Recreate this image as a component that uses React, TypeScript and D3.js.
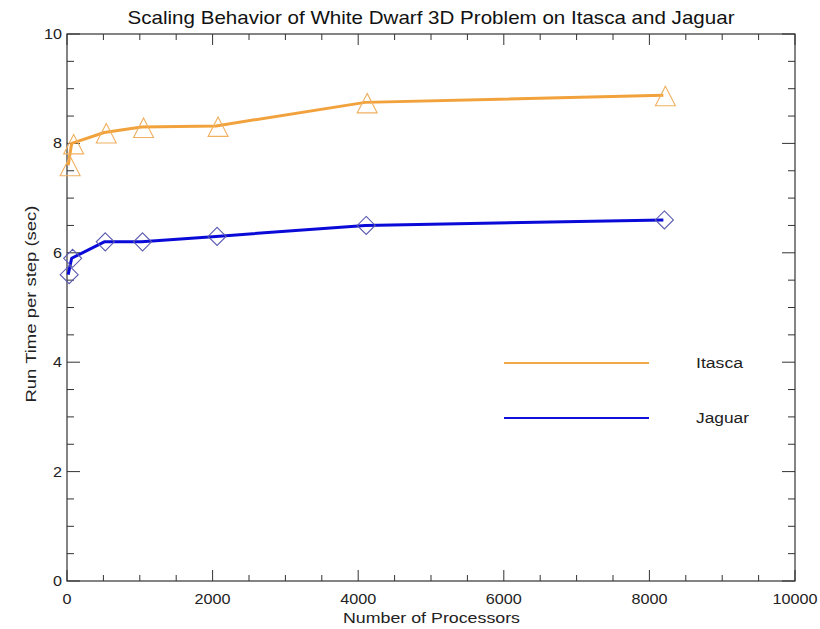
import React from "react";
import * as d3 from "d3";

const processors = [16, 64, 512, 1024, 2048, 4096, 8192];
const itasca = [7.6, 8.0, 8.2, 8.3, 8.32, 8.75, 8.88];
const jaguar = [5.6, 5.9, 6.2, 6.2, 6.3, 6.5, 6.6];
const xTicks = [0, 2000, 4000, 6000, 8000, 10000];
const yTicks = [0, 2, 4, 6, 8, 10];

const W = 820, H = 629;
const L = 67, R = 795, T = 34, B = 581;
const font = "'Liberation Sans', Arial, Helvetica, sans-serif";

export default function App() {
  const x = d3.scaleLinear().domain([0, 10000]).range([L, R]);
  const y = d3.scaleLinear().domain([0, 10]).range([B, T]);
  const line = d3.line<number>().x((_, i) => x(processors[i])).y((d) => y(d));
  const xMinor = d3.range(0, 10001, 500);
  const yMinor = d3.range(0, 10.01, 0.5);
  const axisColor = "#333";
  const tri = (cx: number, cy: number) => {
    const s = 10;
    return `M${cx},${cy - s * 1.2}L${cx + s},${cy + s * 0.75}L${cx - s},${cy + s * 0.75}Z`;
  };
  const dia = (cx: number, cy: number) => {
    const s = 9;
    return `M${cx},${cy - s}L${cx + s},${cy}L${cx},${cy + s}L${cx - s},${cy}Z`;
  };
  const digitW = 9;
  return (
    <div style={{ position: "absolute", left: 0, top: 0 }}>
      <svg width={W} height={H} style={{ display: "block", background: "#fff" }}>
        <text x={431} y={24} textAnchor="middle" fontFamily={font} fontSize={19} fill="#111"
          textLength={607} lengthAdjust="spacingAndGlyphs">
          Scaling Behavior of White Dwarf 3D Problem on Itasca and Jaguar
        </text>
        {/* frame */}
        <rect x={L} y={T} width={R - L} height={B - T} fill="none" stroke={axisColor} strokeWidth={1.2} />
        {/* x ticks */}
        {xMinor.map((v) => {
          const major = v % 2000 === 0;
          const len = major ? 11 : 6;
          return (
            <g key={"x" + v} stroke={axisColor} strokeWidth={1}>
              <line x1={x(v)} x2={x(v)} y1={B} y2={B - len} />
              <line x1={x(v)} x2={x(v)} y1={T} y2={T + len} />
            </g>
          );
        })}
        {yMinor.map((v) => {
          const major = Math.abs(v % 2) < 1e-6;
          const len = major ? 13 : 7;
          return (
            <g key={"y" + v} stroke={axisColor} strokeWidth={1}>
              <line x1={L} x2={L + len} y1={y(v)} y2={y(v)} />
              <line x1={R} x2={R - len} y1={y(v)} y2={y(v)} />
            </g>
          );
        })}
        {xTicks.map((v) => (
          <text key={"xl" + v} x={x(v)} y={604} textAnchor="middle" fontFamily={font} fontSize={14.5} fill="#222"
            textLength={String(v).length * digitW} lengthAdjust="spacingAndGlyphs">
            {v}
          </text>
        ))}
        {yTicks.map((v) => (
          <text key={"yl" + v} x={62} y={y(v) + 5} textAnchor="end" fontFamily={font} fontSize={14.5} fill="#222"
            textLength={String(v).length * digitW} lengthAdjust="spacingAndGlyphs">
            {v}
          </text>
        ))}
        <text x={431.5} y={623} textAnchor="middle" fontFamily={font} fontSize={15} fill="#222"
          textLength={177} lengthAdjust="spacingAndGlyphs">
          Number of Processors
        </text>
        <text transform={`translate(36,304) rotate(-90)`} textAnchor="middle" fontFamily={font} fontSize={15} fill="#222"
          textLength={197} lengthAdjust="spacingAndGlyphs">
          Run Time per step (sec)
        </text>
        {/* series */}
        <path d={line(itasca) || ""} fill="none" stroke="#F2A23C" strokeWidth={3} strokeLinejoin="round" />
        <path d={line(jaguar) || ""} fill="none" stroke="#0A0AD8" strokeWidth={3} strokeLinejoin="round" />
        {itasca.map((v, i) => (
          <path key={"t" + i} d={tri(x(processors[i]) + 2, y(v) + 3)} fill="none" stroke="#F0B060" strokeWidth={1.1} />
        ))}
        {jaguar.map((v, i) => (
          <path key={"d" + i} d={dia(x(processors[i]) + 1, y(v))} fill="none" stroke="#5A5AB0" strokeWidth={1.1} />
        ))}
        {/* legend */}
        <line x1={504} x2={649} y1={363} y2={363} stroke="#F0A848" strokeWidth={2} />
        <text x={696} y={368} fontFamily={font} fontSize={15.5} fill="#222" textLength={47} lengthAdjust="spacingAndGlyphs">Itasca</text>
        <line x1={504} x2={649} y1={418} y2={418} stroke="#1010D8" strokeWidth={2} />
        <text x={696} y={423} fontFamily={font} fontSize={15.5} fill="#222" textLength={53} lengthAdjust="spacingAndGlyphs">Jaguar</text>
      </svg>
    </div>
  );
}
